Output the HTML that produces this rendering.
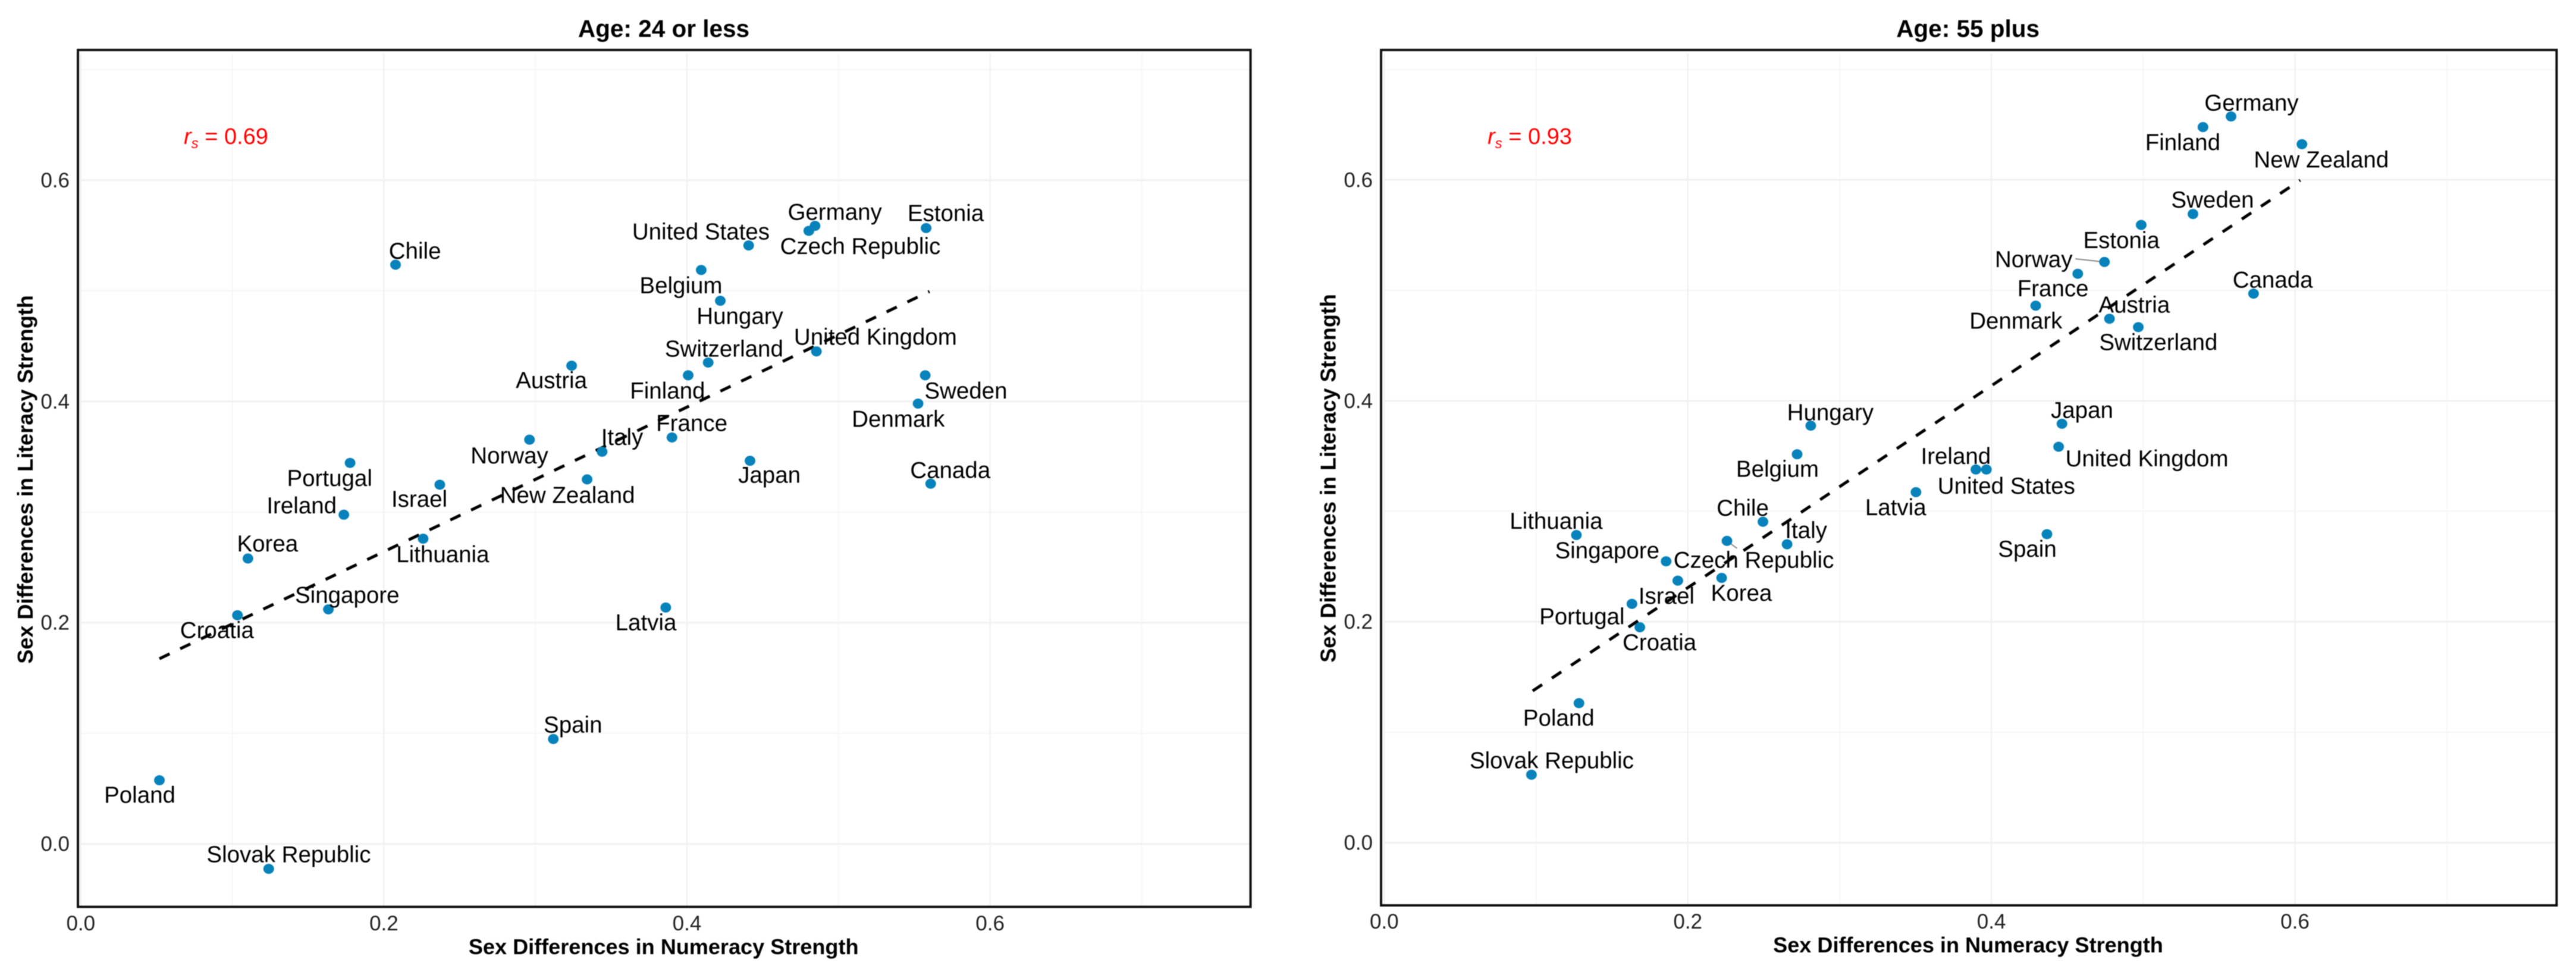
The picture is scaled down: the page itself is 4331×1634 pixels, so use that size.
<!DOCTYPE html>
<html lang="en">
<head>
<meta charset="utf-8">
<title>Sex Differences in Numeracy and Literacy Strength by Age</title>
<style>
html,body{margin:0;padding:0;background:#fff;width:4331px;height:1634px;overflow:hidden}
svg{display:block;filter:blur(0.7px)}
text{font-family:"Liberation Sans",Arial,sans-serif}
</style>
</head>
<body>
<svg id="chart" xmlns="http://www.w3.org/2000/svg" width="4331" height="1634" viewBox="0 0 4331 1634"></svg>
<script>
const xMajorTicks = [0, 0.2, 0.4, 0.6];
const xMinorTicks = [0.1, 0.3, 0.5, 0.7];
const yMajorTicks = [0, 0.2, 0.4, 0.6];
const yMinorTicks = [0.1, 0.3, 0.5, 0.7];
const xAxisLabel = "Sex Differences in Numeracy Strength";
const yAxisLabel = "Sex Differences in Literacy Strength";

const youngTitle = "Age: 24 or less";
const youngCorrelation = "0.69";
const youngCountries = ["Chile","Austria","Norway","Italy","Portugal","New Zealand","Israel","Ireland","Korea","Lithuania","Singapore","Croatia","Poland","Slovak Republic","Spain","Latvia","United States","Germany","Czech Republic","Estonia","Belgium","Hungary","United Kingdom","Switzerland","Finland","France","Japan","Canada","Sweden","Denmark"];
const youngNumeracy = [0.2077,0.3239,0.2961,0.3440,0.1777,0.3341,0.2369,0.1736,0.1103,0.2259,0.1634,0.1034,0.0519,0.1240,0.3118,0.3860,0.4407,0.4845,0.4804,0.5578,0.4094,0.4220,0.4854,0.4140,0.4008,0.3901,0.4416,0.5608,0.5572,0.5525];
const youngLiteracy = [0.5236,0.4323,0.3654,0.3545,0.3444,0.3295,0.3247,0.2976,0.258,0.2759,0.212,0.2067,0.0575,-0.0226,0.0948,0.2137,0.5410,0.5587,0.5542,0.5567,0.5188,0.4910,0.4452,0.4351,0.4236,0.3674,0.3463,0.3256,0.4236,0.398];
const youngFitX = [0.0519,0.56];
const youngFitY = [0.1674,0.4994];
const youngLabelNudgeX = [32.6,-34,-33.7,33.7,-34.4,-33,-34.4,-70.9,33,33,31.6,-34.4,-33,33.7,33,-33.3,-80.3,33.3,86.6,33,-34,33,99.3,26.7,-34.7,33.3,32.6,33,68.4,-33.3];
const youngLabelNudgeY = [-10,38,39.7,-11.5,38.7,39.5,37.4,-2,-12,39.5,-11,38.4,38,-11,-11,38.4,-10,-10,38.7,-12,39.2,38.7,-11.5,-10,39,-11,37,-9.5,39,39];
const youngConnectors = [];

const olderTitle = "Age: 55 plus";
const olderCorrelation = "0.93";
const olderCountries = ["Germany","Finland","New Zealand","Sweden","Estonia","Norway","France","Denmark","Austria","Switzerland","Canada","Japan","United Kingdom","Ireland","United States","Spain","Latvia","Hungary","Belgium","Chile","Italy","Czech Republic","Lithuania","Singapore","Korea","Israel","Portugal","Croatia","Poland","Slovak Republic"];
const olderNumeracy = [0.5579,0.5394,0.6046,0.5328,0.4987,0.4745,0.4569,0.4292,0.4778,0.4968,0.5727,0.4465,0.4443,0.3898,0.3967,0.4366,0.3503,0.2810,0.2720,0.2495,0.2654,0.2258,0.1266,0.1857,0.2223,0.1934,0.1632,0.1684,0.1283,0.0970];
const olderLiteracy = [0.6574,0.6478,0.6323,0.5691,0.5592,0.5257,0.5150,0.4861,0.4743,0.4667,0.4970,0.3792,0.3584,0.3378,0.3378,0.2793,0.3173,0.3775,0.3516,0.2905,0.2701,0.2732,0.2785,0.2547,0.2397,0.2372,0.2162,0.1950,0.1263,0.0615];
const olderFitX = [0.0978,0.6035];
const olderFitY = [0.1374,0.5997];
const olderLabelNudgeX = [34.4,-34,32.6,33,-33.3,-119,-41.7,-33.3,41.7,33.7,32.3,33.7,148.4,-33.7,33.7,-33,-34,33,-33,-34,32,45,-34,-99,33.3,-19,-84,33,-34,34];
const olderLabelNudgeY = [-10,38.7,39,-11,39,8.4,37.7,38.7,-10.5,38.7,-10,-10,33,-9.4,40.7,38,38.4,-9,37.7,-10,-10.4,45.2,-10.4,-5,38.4,39,34.3,38.4,38,-11];
const olderConnectors = [["Norway",-49,-5.2],["Czech Republic",16.8,12.5]];

const svgNS = "http://www.w3.org/2000/svg";
const root = document.getElementById("chart");

function make(parent, tag, attrs, content) {
  const el = document.createElementNS(svgNS, tag);
  for (const key in attrs) el.setAttribute(key, attrs[key]);
  if (content !== undefined) el.textContent = content;
  parent.appendChild(el);
  return el;
}

function drawPanel(cfg) {
  const sx = v => cfg.x0 + cfg.xScale * v;
  const sy = v => cfg.y0 - cfg.yScale * v;

  const g = make(root, "g", {});
  
  

  const title = make(g, "text", {x: cfg.titleX, y: 62, "text-anchor": "middle", "font-size": 40.5, "font-weight": "bold", fill: "#000"}, cfg.title);
  
  

  xMinorTicks.forEach(t => {
    const l = make(g, "line", {x1: sx(t), x2: sx(t), y1: cfg.top + 6, y2: cfg.bottom, stroke: "#f7f7f7", "stroke-width": 2});
    
    
  });
  yMinorTicks.forEach(t => {
    const l = make(g, "line", {x1: cfg.left + 6, x2: cfg.right - 2, y1: sy(t), y2: sy(t), stroke: "#f6f6f6", "stroke-width": 2});
    
    
  });
  xMajorTicks.forEach(t => {
    const l = make(g, "line", {x1: sx(t), x2: sx(t), y1: cfg.top + 6, y2: cfg.bottom, stroke: "#f1f1f1", "stroke-width": 2.5});
    
    
  });
  yMajorTicks.forEach(t => {
    const l = make(g, "line", {x1: cfg.left + 6, x2: cfg.right - 2, y1: sy(t), y2: sy(t), stroke: "#f1f1f1", "stroke-width": 3});
    
    
  });

  const fit = make(g, "line", {x1: sx(cfg.fitX[0]), y1: sy(cfg.fitY[0]), x2: sx(cfg.fitX[1]), y2: sy(cfg.fitY[1]), stroke: "#000", "stroke-width": 5, "stroke-dasharray": "19 19.7"});
  
  

  cfg.connectors.forEach(c => {
    const i = cfg.countries.indexOf(c[0]);
    const s = make(g, "line", {x1: sx(cfg.xs[i]), y1: sy(cfg.ys[i]), x2: sx(cfg.xs[i]) + c[1], y2: sy(cfg.ys[i]) + c[2], stroke: "#8a8a8a", "stroke-width": 2});
    
    
  });

  cfg.countries.forEach((name, i) => {
    const p = make(g, "ellipse", {cx: sx(cfg.xs[i]), cy: sy(cfg.ys[i]), rx: 9, ry: 8.5, fill: "#0782ba"});
    
    
  });

  cfg.countries.forEach((name, i) => {
    const t = make(g, "text", {x: sx(cfg.xs[i]) + cfg.nudgeX[i], y: sy(cfg.ys[i]) + cfg.nudgeY[i], "text-anchor": "middle", "font-size": 38.5, fill: "#000"}, name);
    
    
  });

  const frame = make(g, "rect", {x: cfg.left, y: cfg.top, width: cfg.right - cfg.left, height: cfg.bottom - cfg.top, fill: "none", stroke: "#111", "stroke-width": 4});
  
  

  xMajorTicks.forEach(t => {
    const l = make(g, "text", {x: sx(t), y: cfg.xTickBaseline, "text-anchor": "middle", "font-size": 35, fill: "#222"}, t.toFixed(1));
    
    
  });
  yMajorTicks.forEach(t => {
    const l = make(g, "text", {x: cfg.left - 14, y: sy(t) + 12, "text-anchor": "end", "font-size": 35, fill: "#222"}, t.toFixed(1));
    
    
  });

  const xt = make(g, "text", {x: cfg.xTitleX, y: cfg.xTitleBaseline, "text-anchor": "middle", "font-size": 36.1, "font-weight": "bold", fill: "#000"}, xAxisLabel);
  
  

  const yt = make(g, "text", {x: 0, y: 0, transform: "translate(" + cfg.yTitleX + " " + cfg.yTitleY + ") rotate(-90)", "text-anchor": "middle", "font-size": 36.1, "font-weight": "bold", fill: "#000"}, yAxisLabel);
  
  

  const r = make(g, "text", {x: cfg.corrX, y: 242, "font-size": 38, fill: "#ff0000"});
  
  
  make(r, "tspan", {"font-style": "italic"}, "r");
  make(r, "tspan", {"font-style": "italic", "font-size": 24, dy: 7}, "s");
  make(r, "tspan", {dy: -7}, " = " + cfg.corr);
}

drawPanel({
  key: "age-24-or-less", title: youngTitle, corr: youngCorrelation,
  countries: youngCountries, xs: youngNumeracy, ys: youngLiteracy,
  fitX: youngFitX, fitY: youngFitY, nudgeX: youngLabelNudgeX, nudgeY: youngLabelNudgeY, connectors: youngConnectors,
  x0: 135.8, xScale: 2548, y0: 1418.6, yScale: 1859.5,
  left: 131, right: 2102.5, top: 84, bottom: 1524.5,
  titleX: 1116, xTitleX: 1115.7, xTitleBaseline: 1604, xTickBaseline: 1564,
  yTitleX: 55, yTitleY: 806, corrX: 309
});

drawPanel({
  key: "age-55-plus", title: olderTitle, corr: olderCorrelation,
  countries: olderCountries, xs: olderNumeracy, ys: olderLiteracy,
  fitX: olderFitX, fitY: olderFitY, nudgeX: olderLabelNudgeX, nudgeY: olderLabelNudgeY, connectors: olderConnectors,
  x0: 2327.3, xScale: 2552, y0: 1416.6, yScale: 1857,
  left: 2322, right: 4298.4, top: 84, bottom: 1522,
  titleX: 3308.6, xTitleX: 3309, xTitleBaseline: 1601, xTickBaseline: 1561,
  yTitleX: 2245.6, yTitleY: 804, corrX: 2501
});
</script>
</body>
</html>
